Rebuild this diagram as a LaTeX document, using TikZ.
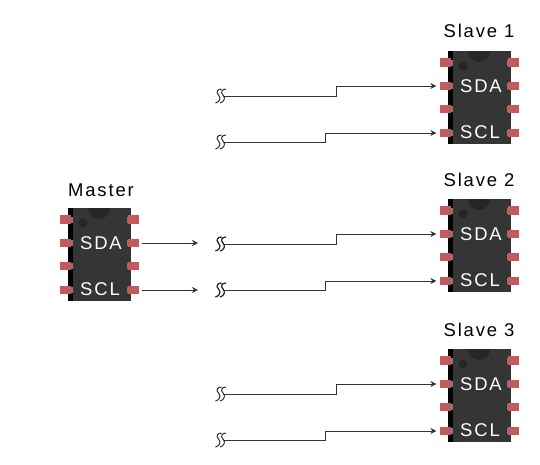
\documentclass[tikz,border=0pt]{standalone}
\usepackage{fontspec}
\setmainfont{Liberation Sans}
\newfontfamily\chipfont[LetterSpace=10]{Liberation Sans}
\usetikzlibrary{arrows.meta}
\definecolor{chipbody}{HTML}{353535}
\definecolor{chipnotch}{HTML}{262626}
\definecolor{chippin}{HTML}{C45A5C}
\definecolor{chipstub}{HTML}{7C7C7C}
\tikzset{
    pin/.style={fill=chippin,inner sep=0pt,minimum width=.22cm,minimum height=.17cm},
    chiplabel/.style={text=white,font=\chipfont\fontsize{10.5}{10.5}\selectfont,inner sep=0pt},
    title/.style={text=black,font=\chipfont\fontsize{10.5}{10.5}\selectfont,inner sep=0pt},
    wire/.style={draw=black!80,line width=.55pt},
    arrowwire/.style={wire,-{Stealth[length=3.4pt,width=3.4pt]},shorten >=1.6pt},
    chip/.pic={
        \fill[chipbody] (0,0) rectangle (63,93);
        \fill[black] (0,0) rectangle (5,93);
        \fill[chipnotch] (20,0) arc[start angle=180,end angle=0,radius=11] -- cycle;
        \fill[chipnotch] (15,15) circle(4.5);
        \foreach \k in {11.5,35,58,82} {
            \fill[chipstub] (2,\k-3) rectangle (5,\k+3);
            \fill[chipstub] (59,\k-3) rectangle (63,\k+3);
            \node[pin] at (65,\k) {};
        }
        \node[pin] at (-3,11.5) {};
        \node[pin] (-sda) at (-3,35) {};
        \node[pin] at (-3,58) {};
        \node[pin] (-scl) at (-3,82) {};
        \node[pin] (-sdaout) at (65,35) {};
        \node[pin] (-sclout) at (65,82) {};
        \node[chiplabel] (-sdatext) at (33,35.5) {SDA};
        \node[chiplabel] (-scltext) at (32,81.5) {SCL};
    },
    squiggle/.pic={
        \foreach \k in {-2.5,2} {
            \draw[black!85,line width=.55pt] (\k+3,-7) .. controls (\k-1,-7) and (\k-3,-4) .. (\k,-1) .. controls (\k+3,2) and (\k+1,6) .. (\k-3,7);
        }
    }
}
\begin{document}
\begin{tikzpicture}[x=.02cm,y=-.02cm]
    \useasboundingbox (0,0) rectangle (540,464);

    % master
    \pic (m) at (68,208) {chip};
    \node[title] (mtitle) at (101,190) {Master};
    \coordinate (mendsda) at (198,243);
    \coordinate (mendscl) at (198,290);
    \draw[arrowwire,shorten >=0pt] (m-sdaout) ++(9,0) coordinate (msdastart) -- (mendsda);
    \draw[arrowwire,shorten >=0pt] (m-sclout) ++(9,0) coordinate (msclstart) -- (mendscl);
    \pic at (221,244) {squiggle};
    \pic at (221,290) {squiggle};
    \coordinate (mwiresda) at (224,244);
    \coordinate (mwirescl) at (224,290);
    \draw[wire] (mwiresda) -- ++(20,0);
    \draw[wire] (mwirescl) -- ++(20,0);

    % slaves
    \foreach \s/\y/\t in {1/51/31,2/199/180,3/349/330} {
        \pic (s\s) at (448,\y) {chip};
        \node[title] (stitle\s) at (479,\t) {Slave \s};
        \pic at (221,\y+45) {squiggle};
        \pic at (221,\y+91) {squiggle};
        \coordinate (wa\s) at (224,\y+45);
        \coordinate (wb\s) at (224,\y+91);
        \coordinate (stepa\s) at (336,\y+35);
        \coordinate (stepb\s) at (325,\y+82);
        \draw[arrowwire] (wa\s) -| (stepa\s) -- (s\s-sda);
        \draw[arrowwire] (wb\s) -| (stepb\s) -- (s\s-scl);
    }
\end{tikzpicture}
\end{document}
